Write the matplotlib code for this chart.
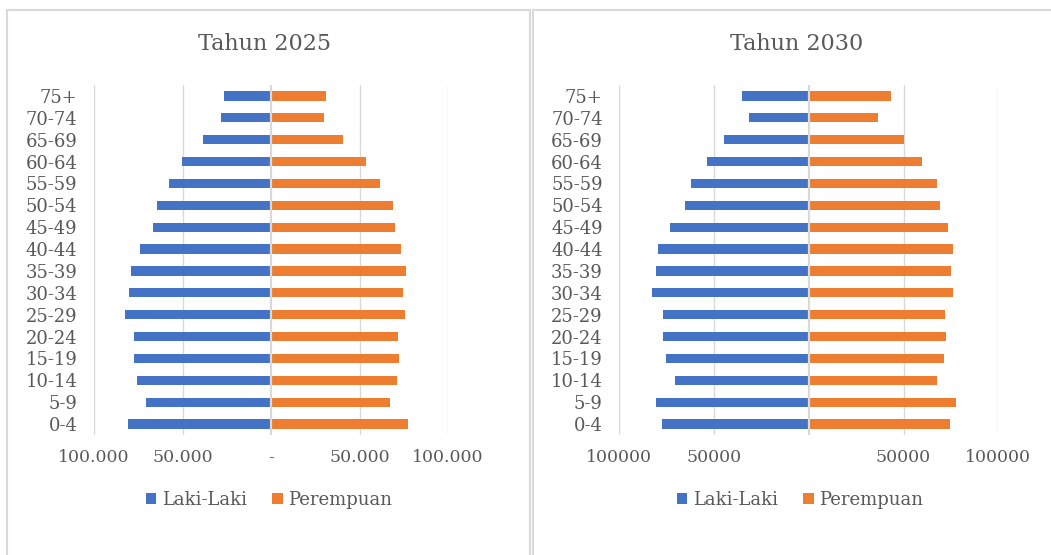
import numpy as np
import matplotlib
matplotlib.use("Agg")
import matplotlib.pyplot as plt
from matplotlib.patches import Rectangle

plt.rcParams["font.family"] = ["DejaVu Serif"]

# ---------------------------------------------------------------------------
# Data: population by age group (bottom to top)
# ---------------------------------------------------------------------------
age_groups = ["0-4", "5-9", "10-14", "15-19", "20-24", "25-29", "30-34", "35-39",
              "40-44", "45-49", "50-54", "55-59", "60-64", "65-69", "70-74", "75+"]

male_2025 = [80700, 70500, 75600, 77400, 77300, 82400, 80300, 79300,
             73900, 66700, 64500, 57700, 50500, 38500, 28100, 26800]
female_2025 = [77600, 67500, 71400, 72400, 71800, 75800, 74800, 76000,
               73300, 70100, 69200, 61800, 53500, 40900, 29800, 31100]

male_2030 = [77600, 80500, 70700, 75300, 77000, 77200, 82500, 80400,
             79700, 73300, 65300, 62100, 53800, 45000, 31800, 35000]
female_2030 = [74700, 77700, 67700, 71400, 72300, 71900, 76200, 75300,
               76000, 73200, 69300, 67700, 59800, 50300, 36600, 43400]

ticks = [-100000, -50000, 0, 50000, 100000]
tick_labels_2025 = ["100.000", "50.000", "-", "50.000", "100.000"]
tick_labels_2030 = ["100000", "50000", "", "50000", "100000"]

BLUE = "#4472C4"
ORANGE = "#ED7D31"
GRID = "#D9D9D9"
TEXT = "#595959"


def draw_pyramid(ax, male, female, tick_labels):
    y = np.arange(len(age_groups))
    ax.barh(y, -np.asarray(male), height=0.42, color=BLUE, zorder=2,
            label="Laki-Laki")
    ax.barh(y, female, height=0.42, color=ORANGE, zorder=2,
            label="Perempuan")
    for t in ticks:
        ax.axvline(t, color=GRID, lw=1.0 if t else 1.6, zorder=1 if t else 3)
    ax.set_xlim(-100000, 100000)
    ax.set_ylim(-0.5, len(age_groups) - 0.5)
    ax.set_xticks(ticks)
    ax.set_xticklabels(tick_labels)
    ax.set_yticks(y)
    ax.set_yticklabels(age_groups)
    ax.tick_params(axis="both", length=0, colors=TEXT)
    ax.tick_params(axis="x", pad=10, labelsize=12.5)
    ax.tick_params(axis="y", pad=12, labelsize=13)
    for s in ax.spines.values():
        s.set_visible(False)


fig = plt.figure(figsize=(10.51, 5.55), dpi=100)

# chart panel frames
for x0, w in [(7 / 1051, 523 / 1051), (533 / 1051, 530 / 1051)]:
    fig.patches.append(Rectangle((x0, -0.02), w, 1 - 10 / 555 + 0.02,
                                 transform=fig.transFigure, fill=False,
                                 edgecolor=GRID, lw=1.5))

ax1 = fig.add_axes([94 / 1051, 1 - 435 / 555, 354 / 1051, 350 / 555])
ax2 = fig.add_axes([619.3 / 1051, 1 - 435 / 555, 379 / 1051, 350 / 555])

draw_pyramid(ax1, male_2025, female_2025, tick_labels_2025)
draw_pyramid(ax2, male_2030, female_2030, tick_labels_2030)

fig.text(265 / 1051, 1 - 44 / 555, "Tahun 2025", ha="center", va="center",
         fontsize=16, color=TEXT)
fig.text(797 / 1051, 1 - 44 / 555, "Tahun 2030", ha="center", va="center",
         fontsize=16, color=TEXT)

for ax, xc in [(ax1, 269 / 1051), (ax2, 800 / 1051)]:
    ax.legend(loc="center", bbox_to_anchor=(xc, 1 - 500 / 555),
              bbox_transform=fig.transFigure, ncol=2, frameon=False,
              fontsize=13, labelcolor=TEXT, handlelength=0.6,
              handleheight=0.6, handletextpad=0.3, columnspacing=1.4)

fig.savefig("out.png", dpi=100)
